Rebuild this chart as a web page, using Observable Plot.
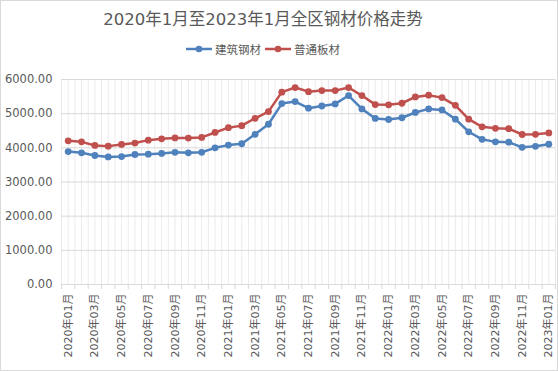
<!DOCTYPE html>
<html><head><meta charset="utf-8">
<script src="https://cdn.jsdelivr.net/npm/d3@7"></script>
<script src="https://cdn.jsdelivr.net/npm/@observablehq/plot@0.6"></script>
<style>
body{margin:0;background:#fff;}
#chart{width:558px;height:371px;box-sizing:border-box;border:1px solid #d9d9d9;overflow:hidden;background:#fff;font-family:"DejaVu Sans","Noto Sans CJK SC",sans-serif;}
#title{width:524px;height:38px;line-height:38px;text-align:center;font-size:16.5px;color:#595959;white-space:nowrap;}
#legend{width:524px;height:19px;display:flex;justify-content:center;align-items:center;font-size:11.5px;color:#595959;}
#legend .item{display:flex;align-items:center;margin:0 2px;}
#legend svg{margin-right:3px;}
#plot svg{display:block;}
</style>
</head><body>
<div id="chart">
  <div id="title">2020年1月至2023年1月全区钢材价格走势</div>
  <div id="legend"></div>
  <div id="plot"></div>
</div>
<script>
const months = [
  "2020年01月","2020年02月","2020年03月","2020年04月","2020年05月","2020年06月",
  "2020年07月","2020年08月","2020年09月","2020年10月","2020年11月","2020年12月",
  "2021年01月","2021年02月","2021年03月","2021年04月","2021年05月","2021年06月",
  "2021年07月","2021年08月","2021年09月","2021年10月","2021年11月","2021年12月",
  "2022年01月","2022年02月","2022年03月","2022年04月","2022年05月","2022年06月",
  "2022年07月","2022年08月","2022年09月","2022年10月","2022年11月","2022年12月",
  "2023年01月"
];
const seriesNames = ["建筑钢材", "普通板材"];
const seriesColors = ["#4F81BD", "#C0504D"];
const construction = [
  3890,3855,3775,3735,3745,3805,3815,3835,3870,3855,3870,4000,
  4080,4120,4395,4690,5295,5355,5160,5225,5285,5530,5140,4860,
  4830,4880,5035,5140,5110,4840,4470,4250,4175,4165,4015,4045,
  4105
];
const plate = [
  4205,4175,4070,4050,4100,4140,4225,4265,4290,4285,4305,4450,
  4590,4650,4865,5060,5630,5765,5645,5675,5675,5765,5530,5265,
  5260,5305,5490,5540,5470,5245,4840,4615,4570,4560,4390,4395,
  4435
];
const yTicks = [0, 1000, 2000, 3000, 4000, 5000, 6000];

const data = [];
[construction, plate].forEach((arr, s) => arr.forEach((v, i) => data.push({i, v, series: seriesNames[s]})));

const n = months.length;
const boundaries = d3.range(n + 1).map(k => k - 0.5);
const minorGrid = d3.range(2 * n + 1).map(k => k / 2 - 0.5);
const labelIdx = d3.range(0, n, 2);

// legend
const legend = document.getElementById("legend");
seriesNames.forEach((name, s) => {
  const item = document.createElement("div");
  item.className = "item";
  item.innerHTML = `<svg width="26" height="10"><line x1="0" x2="26" y1="5" y2="5" stroke="${seriesColors[s]}" stroke-width="2.5"/><circle cx="13" cy="5" r="3.3" fill="${seriesColors[s]}"/></svg><span>${name}</span>`;
  legend.appendChild(item);
});

const chart = Plot.plot({
  width: 556,
  height: 312,
  marginTop: 21,
  marginBottom: 86,
  marginLeft: 60,
  marginRight: 2,
  style: {fontFamily: '"DejaVu Sans","Noto Sans CJK SC",sans-serif', color: "#595959", background: "#fff"},
  x: {type: "linear", domain: [-0.5, n - 0.5]},
  y: {domain: [0, 6000]},
  color: {domain: seriesNames, range: seriesColors},
  marks: [
    Plot.ruleX(minorGrid, {stroke: "#ebebeb", strokeWidth: 1}),
    Plot.ruleY(yTicks, {stroke: "#d9d9d9", strokeWidth: 1}),
    Plot.axisY(yTicks, {tickFormat: d3.format(".2f"), tickSize: 0, tickPadding: 9, fontSize: 11.5, label: null}),
    Plot.axisX(boundaries, {tickSize: 5, tickFormat: () => "", stroke: "#d9d9d9", label: null}),
    Plot.axisX(labelIdx, {tickSize: 0, tickPadding: 9, tickRotate: -90, tickFormat: i => months[i], fontSize: 11, label: null}),
    Plot.line(data, {x: "i", y: "v", stroke: "series", z: "series", strokeWidth: 2.5}),
    Plot.dot(data, {x: "i", y: "v", fill: "series", r: 3.4})
  ]
});
document.getElementById("plot").appendChild(chart);
</script>
</body></html>
